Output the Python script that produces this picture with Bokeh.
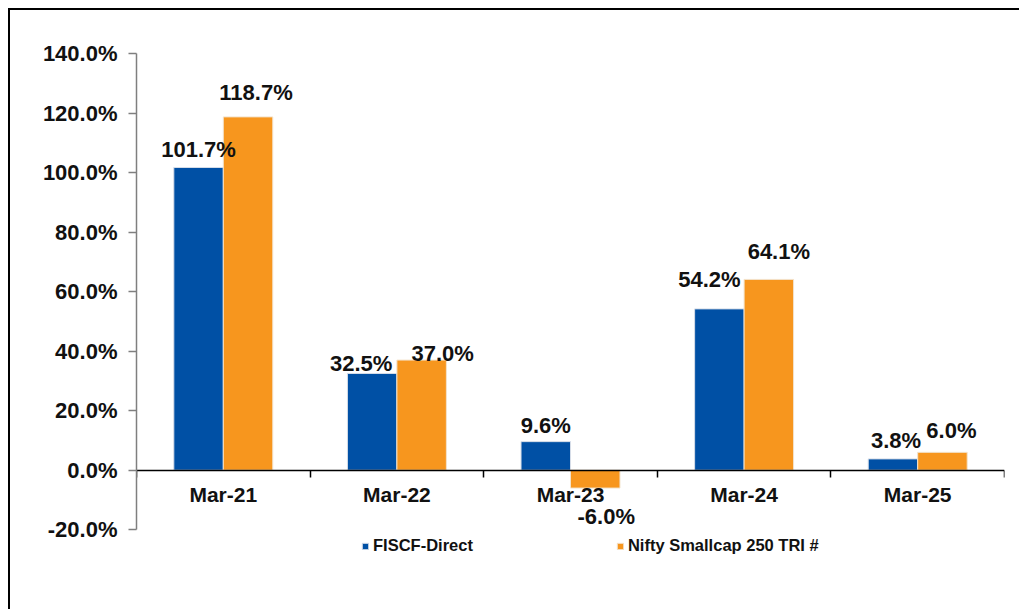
from bokeh.plotting import figure
from bokeh.models import (ColumnDataSource, Range1d, LinearAxis, FixedTicker,
                          PrintfTickFormatter, Legend, LegendItem)
from bokeh.transform import dodge
from bokeh.embed import file_html
from bokeh.resources import INLINE
from bokeh.core.properties import value
import numpy as np

# ---- data ----
categories = ["Mar-21", "Mar-22", "Mar-23", "Mar-24", "Mar-25"]
fiscf_direct = [101.7, 32.5, 9.6, 54.2, 3.8]
nifty_smallcap = [118.7, 37.0, -6.0, 64.1, 6.0]
series_names = ["FISCF-Direct", "Nifty Smallcap 250 TRI #"]
y_ticks = [-20, 0, 20, 40, 60, 80, 100, 120, 140]

# label nudges (screen px) to mimic hand-placed data labels
blue_dx = [0, -11, 0, -10, 3]
blue_dy = [-18, -10, -16, -29, -18]
orange_dx = [8, 21, 11, 10, 9]
orange_dy = [-24, -7, 28, -28, -22]

BLUE = "#0050A5"
ORANGE = "#F7961E"
TXT = "#111111"
FONT = "Liberation Sans"

centers = np.arange(len(categories)) + 0.5
bw = 0.285

src_b = ColumnDataSource(dict(
    x=centers, y=fiscf_direct,
    lbl=[f"{v:.1f}%" for v in fiscf_direct], dx=blue_dx, dy=blue_dy))
src_o = ColumnDataSource(dict(
    x=centers, y=nifty_smallcap,
    lbl=[f"{v:.1f}%" for v in nifty_smallcap], dx=orange_dx, dy=orange_dy))

# frame extends a little below -20 so the legend fits inside it;
# the y axis itself is bounded to -20..140
p = figure(width=1011, height=601, output_backend="svg", toolbar_location=None,
           x_range=Range1d(0, len(categories)), y_range=Range1d(-30, y_ticks[-1]),
           x_axis_location=None, min_border_left=126, min_border_right=17,
           min_border_top=43, min_border_bottom=52)
p.styles = {"border-top": "2px solid #000", "border-left": "2px solid #000",
            "margin-left": "8px", "margin-top": "8px"}
p.outline_line_color = None
p.grid.visible = False
p.background_fill_color = "white"
p.border_fill_color = "white"

rb = p.vbar(x=dodge("x", -bw / 2), top="y", width=bw, bottom=0, source=src_b,
            fill_color=BLUE, line_color="#d6dde8", line_width=1)
ro = p.vbar(x=dodge("x", bw / 2), top="y", width=bw, bottom=0, source=src_o,
            fill_color=ORANGE, line_color="#f3e3cc", line_width=1)

for src, off in ((src_b, -bw / 2), (src_o, bw / 2)):
    p.text(x=dodge("x", off), y="y", text="lbl", source=src,
           x_offset="dx", y_offset="dy",
           text_align="center", text_baseline="alphabetic",
           text_font=value(FONT), text_font_style="bold",
           text_font_size="22px", text_color=TXT)

# y axis
ya = p.yaxis[0]
ya.bounds = (y_ticks[0], y_ticks[-1])
ya.ticker = FixedTicker(ticks=y_ticks)
ya.formatter = PrintfTickFormatter(format="%.1f%%")
ya.axis_line_color = "#7f7f7f"
ya.axis_line_width = 1.5
ya.major_tick_line_color = "#7f7f7f"
ya.major_tick_line_width = 1.5
ya.major_tick_in = 0
ya.major_tick_out = 8
ya.minor_tick_line_color = None
ya.major_label_standoff = 11
ya.major_label_text_font = FONT
ya.major_label_text_font_style = "bold"
ya.major_label_text_font_size = "22px"
ya.major_label_text_color = TXT

# x axis at y = 0
xa = LinearAxis(fixed_location=0,
                ticker=FixedTicker(ticks=list(centers),
                                   minor_ticks=list(range(len(categories) + 1))),
                major_label_overrides={float(c): n for c, n in zip(centers, categories)})
xa.axis_line_color = "#000000"
xa.axis_line_width = 1.5
xa.major_tick_line_color = None
xa.major_tick_in = 0
xa.major_tick_out = 0
xa.minor_tick_line_color = "#000000"
xa.minor_tick_line_width = 1.5
xa.minor_tick_in = 0
xa.minor_tick_out = 7
xa.major_label_standoff = 6
xa.major_label_text_font = FONT
xa.major_label_text_font_style = "bold"
xa.major_label_text_font_size = "21px"
xa.major_label_text_color = TXT
p.add_layout(xa, "below")

legend = Legend(items=[LegendItem(label=series_names[0], renderers=[rb]),
                       LegendItem(label=series_names[1], renderers=[ro])],
                orientation="horizontal", location=(225, 4),
                glyph_width=8, glyph_height=8, label_standoff=4, spacing=143,
                padding=0, margin=0, border_line_color=None,
                background_fill_alpha=0,
                label_text_font=FONT, label_text_font_style="bold",
                label_text_font_size="16.5px", label_text_color=TXT)
p.add_layout(legend, "center")

open("out.html", "w").write(file_html(p, INLINE))
